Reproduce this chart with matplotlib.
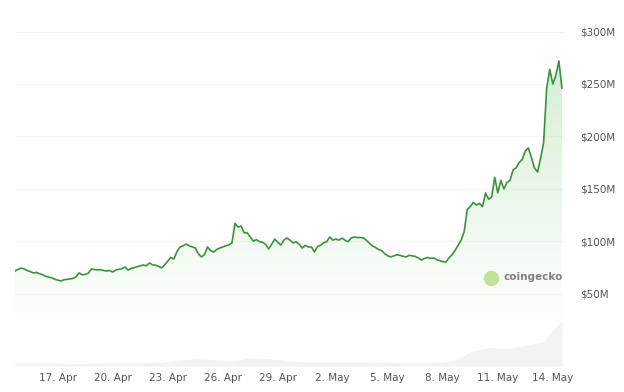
import numpy as np
import pandas as pd
import matplotlib
matplotlib.use("Agg")
import matplotlib.pyplot as plt
import matplotlib.dates as mdates
from matplotlib.patches import Polygon
from matplotlib.ticker import FixedLocator, FuncFormatter

# ---- data ----
price_m = [
    71.6, 73.0, 74.4, 73.5, 72.0, 71.0, 69.7, 70.2, 69.0, 68.0,
    66.5, 65.8, 65.0, 63.8, 62.8, 62.0, 63.2, 63.5, 64.0, 64.5,
    66.0, 69.7, 68.0, 68.2, 69.5, 73.5, 73.0, 72.5, 72.8, 72.0,
    71.6, 72.0, 70.6, 72.5, 73.2, 73.8, 75.4, 72.5, 74.0, 74.8,
    75.5, 76.5, 77.3, 76.5, 79.2, 77.5, 77.0, 76.0, 74.4, 77.5,
    81.0, 84.5, 83.0, 90.0, 94.5, 95.5, 97.3, 95.5, 94.5, 93.5,
    88.0, 85.0, 87.0, 94.5, 91.0, 89.7, 92.0, 93.5, 94.5, 95.5,
    96.5, 98.3, 117.0, 113.5, 114.5, 108.0, 108.0, 104.0, 100.0, 101.5,
    99.5, 99.0, 97.0, 92.6, 97.0, 102.0, 99.0, 96.4, 101.0, 103.0,
    101.0, 98.3, 99.5, 97.0, 93.5, 96.0, 94.5, 94.5, 89.7, 95.0,
    96.0, 98.5, 99.5, 104.0, 101.0, 102.0, 101.0, 103.0, 101.0, 99.5,
    103.0, 104.0, 103.5, 103.5, 103.0, 101.0, 98.0, 95.5, 94.0, 92.0,
    91.0, 88.0, 86.0, 85.0, 86.0, 87.0, 86.5, 85.5, 85.0, 86.5,
    86.0, 85.5, 84.0, 82.0, 83.5, 84.5, 83.5, 84.0, 82.5, 81.5,
    80.5, 80.0, 84.0, 87.0, 91.0, 96.0, 101.0, 109.0, 130.0, 133.0,
    137.0, 134.5, 136.0, 133.0, 146.0, 140.0, 142.0, 161.0, 146.0, 158.0,
    150.0, 156.0, 158.0, 168.0, 170.0, 175.0, 178.0, 186.0, 189.0, 180.0,
    170.0, 166.0, 179.0, 194.0, 246.0, 264.0, 250.0, 258.0, 272.0, 246.0,
]
volume_m = [3, 3, 3, 2.5, 2.5, 3, 3, 3, 3.5, 6, 7, 6, 5, 8, 7, 5, 4, 4, 4, 4,
            3.5, 3, 3, 3, 5, 14, 18, 17, 20, 24, 45]
y_ticks_m = [50, 100, 150, 200, 250, 300]
x_tick_dates = ["2024-04-17", "2024-04-20", "2024-04-23", "2024-04-26", "2024-04-29",
                "2024-05-02", "2024-05-05", "2024-05-08", "2024-05-11", "2024-05-14"]
x_tick_labels = ["17. Apr", "20. Apr", "23. Apr", "26. Apr", "29. Apr",
                 "2. May", "5. May", "8. May", "11. May", "14. May"]

start = pd.Timestamp("2024-04-14 16:00")
dates = pd.date_range(start, periods=len(price_m), freq="4h")
x_end = start + pd.Timedelta(days=30)
vol_dates = pd.date_range(start, dates[-1], periods=len(volume_m))

# ---- figure ----
fig = plt.figure(figsize=(6.24, 3.92), dpi=100)
W, H = 624, 392
left, right, bottom, top = 15, 565, 366, 28
ax = fig.add_axes([left / W, 1 - bottom / H, (right - left) / W, (bottom - top) / H])
axv = fig.add_axes(ax.get_position(), sharex=ax)
axv.set_zorder(0)
ax.set_zorder(1)
ax.patch.set_alpha(0)

xd = mdates.date2num(dates)
x0, x1 = mdates.date2num(start), mdates.date2num(x_end)

# volume
axv.fill_between(mdates.date2num(vol_dates), 0, volume_m, color="#f1f3f4", lw=0)
axv.set_ylim(0, 330)
axv.axis("off")

# price
ymin, ymax = -19.1, 303.4
ax.set_xlim(x0, x1)
ax.set_ylim(ymin, ymax)

for t in y_ticks_m:
    ax.axhline(t, color="#f2f2f2" if t == 300 else "#f7f7f7", lw=0.9, zorder=0)

# gradient fill under line
verts = [(xd[0], 0)] + list(zip(xd, price_m)) + [(xd[-1], 0)]
poly = Polygon(verts, closed=True, facecolor="none", edgecolor="none")
ax.add_patch(poly)
grad = np.linspace(1, 0, 256).reshape(-1, 1)
rgba = np.zeros((256, 1, 4))
rgba[..., 0] = 0.30
rgba[..., 1] = 0.72
rgba[..., 2] = 0.30
rgba[..., 3] = 0.24 * grad ** 1.2
im = ax.imshow(rgba, extent=[xd[0], xd[-1], 0, max(price_m)], aspect="auto",
               origin="upper", zorder=1, interpolation="bilinear")
im.set_clip_path(poly)

ax.plot(xd, price_m, color="#3b923b", lw=1.2, zorder=3, solid_joinstyle="round")

# axes styling
for s in ax.spines.values():
    s.set_visible(False)
ax.yaxis.tick_right()
ax.yaxis.set_major_locator(FixedLocator(y_ticks_m))
ax.yaxis.set_major_formatter(FuncFormatter(lambda v, p: f"${int(v)}M"))
ax.tick_params(axis="y", length=0, pad=11, labelsize=7.5, labelcolor="#555555")
ax.xaxis.set_major_locator(FixedLocator(mdates.date2num(pd.to_datetime(x_tick_dates))))
ax.set_xticklabels(x_tick_labels)
ax.tick_params(axis="x", length=0, pad=5, labelsize=7.5, labelcolor="#555555")

# watermark
fig.add_artist(plt.Line2D([491 / W], [1 - 278 / H], transform=fig.transFigure,
                          marker="o", markersize=11, markerfacecolor="#c2e29a",
                          markeredgecolor="none", linestyle="none"))
fig.text(504 / W, 1 - 277 / H, "coingecko", fontsize=7.5, color="#808080",
         fontweight="semibold", va="center", ha="left")

fig.savefig("out.png", dpi=100, facecolor="white")
